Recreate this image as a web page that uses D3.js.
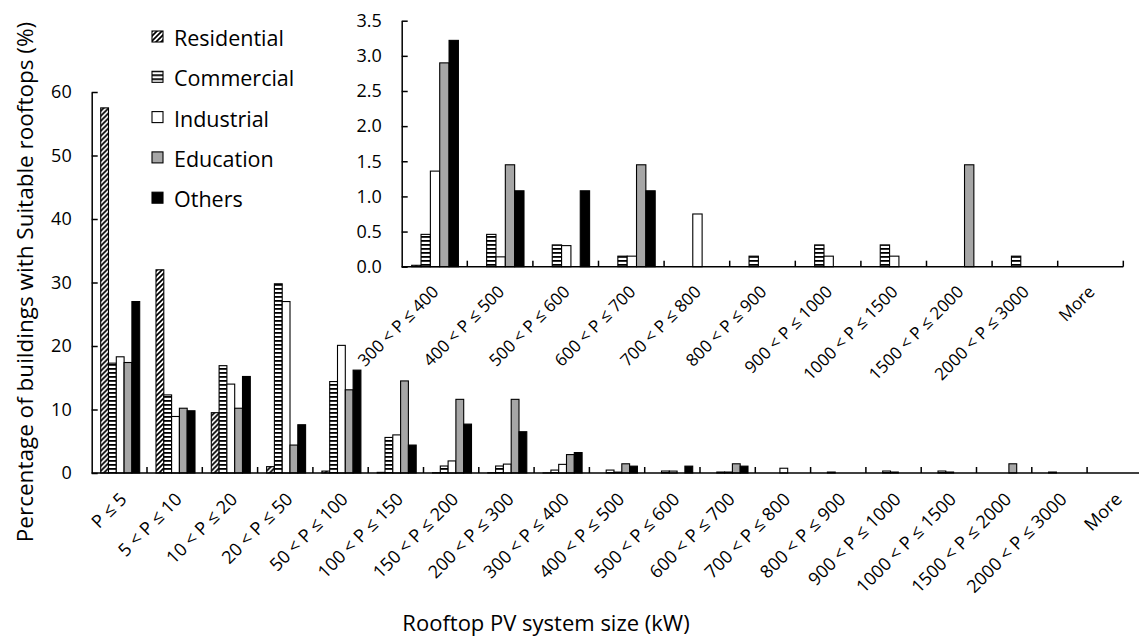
<!DOCTYPE html>
<html>
<head>
<meta charset="utf-8">
<script src="https://cdn.jsdelivr.net/npm/d3@7"></script>
<style>
  body { margin: 0; background: #fff; }
  svg { display: block; font-family: "Open Sans", sans-serif; }
</style>
</head>
<body>
<script>
const categories = ['P ≤ 5', '5 < P ≤ 10', '10 < P ≤ 20', '20 < P ≤ 50', '50 < P ≤ 100',
  '100 < P ≤ 150', '150 < P ≤ 200', '200 < P ≤ 300', '300 < P ≤ 400', '400 < P ≤ 500',
  '500 < P ≤ 600', '600 < P ≤ 700', '700 < P ≤ 800', '800 < P ≤ 900', '900 < P ≤ 1000',
  '1000 < P ≤ 1500', '1500 < P ≤ 2000', '2000 < P ≤ 3000', 'More']

const residential = [57.5, 32.0, 9.5, 1.0, 0.3, 0.1, 0.05, 0.05, 0.02, 0, 0, 0, 0, 0, 0, 0, 0, 0, 0]
const commercial  = [17.3, 12.3, 16.9, 29.8, 14.4, 5.6, 1.1, 1.1, 0.46, 0.46, 0.31, 0.15, 0, 0.15, 0.31, 0.31, 0, 0.15, 0]
const industrial  = [18.3, 8.9, 14.0, 27.0, 20.1, 6.0, 1.9, 1.4, 1.36, 0.14, 0.30, 0.15, 0.75, 0, 0.15, 0.15, 0, 0, 0]
const education   = [17.4, 10.2, 10.2, 4.4, 13.1, 14.5, 11.6, 11.6, 2.90, 1.45, 0, 1.45, 0, 0, 0, 0, 1.45, 0, 0]
const others      = [27.0, 9.8, 15.2, 7.6, 16.2, 4.4, 7.7, 6.5, 3.22, 1.08, 1.08, 1.08, 0, 0, 0, 0, 0, 0, 0]

const seriesNames = ['Residential', 'Commercial', 'Industrial', 'Education', 'Others']
const seriesValues = [residential, commercial, industrial, education, others]

const mainTicks = [0, 10, 20, 30, 40, 50, 60]
const insetTicks = [0, 0.5, 1, 1.5, 2, 2.5, 3, 3.5]
const insetStart = 8   // inset zooms on '300 < P ≤ 400' onwards

const fills = ['url(#hatchDiag)', 'url(#hatchHoriz)', '#ffffff', '#a6a6a6', '#000000']

const W = 1139, H = 636

const svg = d3.select('body')
  .append('svg')
  .attr('width', W)
  .attr('height', H)

const defs = svg.append('defs')

const diag = defs.append('pattern')
  .attr('id', 'hatchDiag')
  .attr('patternUnits', 'userSpaceOnUse')
  .attr('width', 5)
  .attr('height', 5)
diag.append('rect').attr('width', 5).attr('height', 5).attr('fill', '#fff')
diag.append('path')
  .attr('d', 'M-1,1 l2,-2 M0,5 l5,-5 M4,6 l2,-2')
  .attr('stroke', '#000')
  .attr('stroke-width', 1.7)

const horiz = defs.append('pattern')
  .attr('id', 'hatchHoriz')
  .attr('patternUnits', 'userSpaceOnUse')
  .attr('width', 4)
  .attr('height', 4)
horiz.append('rect').attr('width', 4).attr('height', 4).attr('fill', '#fff')
horiz.append('rect').attr('width', 4).attr('height', 1.8).attr('fill', '#000')


function drawPanel(cfg) {
  const cats = categories.slice(cfg.from)
  const x = d3.scaleBand()
    .domain(cats)
    .range(cfg.xRange)
  const inner = d3.scaleBand()
    .domain(seriesNames)
    .range(cfg.inner)
  const y = d3.scaleLinear()
    .domain(cfg.yDomain)
    .range(cfg.yRange)

  const g = svg.append('g')

  // bars
  const groups = g.selectAll('g.cat')
    .data(cats.map((c, i) => ({c, i: i + cfg.from})))
    .enter()
    .append('g')
    .attr('class', 'cat')
    .attr('transform', d => `translate(${x(d.c)},0)`)

  groups.selectAll('rect')
    .data(d => seriesNames.map((s, k) => ({s, k, v: seriesValues[k][d.i]})))
    .enter()
    .filter(d => d.v > 0)
    .append('rect')
    .attr('x', d => inner(d.s))
    .attr('width', inner.bandwidth())
    .attr('y', d => y(d.v))
    .attr('height', d => y(0) - y(d.v))
    .attr('fill', d => fills[d.k])
    .attr('stroke', '#000')
    .attr('stroke-width', 1.1)

  // y axis
  const yAxis = d3.axisLeft(y)
    .tickValues(cfg.ticks)
    .tickFormat(cfg.fmt)
    .tickSizeInner(-6)
    .tickSizeOuter(0)
    .tickPadding(20)
  const ya = g.append('g')
    .attr('transform', `translate(${cfg.xRange[0]},0)`)
    .call(yAxis)
  ya.select('.domain').attr('stroke', '#000').attr('stroke-width', 1.5)
  ya.selectAll('.tick line').attr('stroke', '#000').attr('stroke-width', 1.5)
  ya.selectAll('.tick text')
    .attr('font-size', cfg.tickFont)
    .attr('fill', '#000')
    .attr('font-family', '"Open Sans", sans-serif')

  // x axis line
  g.append('line')
    .attr('x1', cfg.xRange[0])
    .attr('x2', cfg.xEnd)
    .attr('y1', y(0))
    .attr('y2', y(0))
    .attr('stroke', '#000')
    .attr('stroke-width', 1.5)

  // boundary ticks pointing up
  const bounds = cats.slice(1).map(c => x(c))
  if (cfg.endTick) bounds.push(x.range()[1])
  g.selectAll('line.xt')
    .data(bounds)
    .enter()
    .append('line')
    .attr('class', 'xt')
    .attr('x1', d => d)
    .attr('x2', d => d)
    .attr('y1', y(0))
    .attr('y2', y(0) - 6)
    .attr('stroke', '#000')
    .attr('stroke-width', 1.5)

  // rotated category labels
  g.selectAll('text.xl')
    .data(cats)
    .enter()
    .append('text')
    .attr('class', 'xl')
    .attr('text-anchor', 'end')
    .attr('dy', '0.35em')
    .attr('font-size', cfg.labelFont)
    .attr('fill', '#000')
    .attr('transform', d => `translate(${x(d) + x.bandwidth() / 2 + cfg.lab[0]},${y(0) + cfg.lab[1]}) rotate(-45)`)
    .text(d => d)
}

drawPanel({
  from: 0,
  xRange: [91.7, 91.7 + 19 * 55.3],
  xEnd: W,
  inner: [9, 48],
  yDomain: [0, 60],
  yRange: [473, 92],
  ticks: mainTicks,
  fmt: d3.format('d'),
  tickFont: 18,
  labelFont: 18,
  lab: [4, 23],
  endTick: false
})

drawPanel({
  from: insetStart,
  xRange: [401.7, 1123.3],
  xEnd: 1123.3,
  inner: [10, 56.7],
  yDomain: [0, 3.5],
  yRange: [266.7, 20.7],
  ticks: insetTicks,
  fmt: d3.format('.1f'),
  tickFont: 18,
  labelFont: 17,
  lab: [1, 22],
  endTick: true
})

// legend
const legend = svg.append('g')
  .attr('transform', 'translate(152,0)')
const items = legend.selectAll('g')
  .data(seriesNames)
  .enter()
  .append('g')
  .attr('transform', (d, i) => `translate(0,${46 + i * 40.3})`)
items.append('rect')
  .attr('x', 0)
  .attr('y', -15)
  .attr('width', 11)
  .attr('height', 11)
  .attr('fill', (d, i) => fills[i])
  .attr('stroke', '#000')
  .attr('stroke-width', 1.1)
items.append('text')
  .attr('x', 22)
  .attr('y', 0)
  .attr('font-size', 21.5)
  .attr('fill', '#000')
  .text(d => d)

// axis titles
svg.append('text')
  .attr('transform', 'translate(33,282) rotate(-90)')
  .attr('text-anchor', 'middle')
  .attr('font-size', 22.5)
  .attr('fill', '#000')
  .text('Percentage of buildings with Suitable rooftops (%)')

svg.append('text')
  .attr('x', 546)
  .attr('y', 631)
  .attr('text-anchor', 'middle')
  .attr('font-size', 22)
  .attr('fill', '#000')
  .text('Rooftop PV system size (kW)')
</script>
</body>
</html>
